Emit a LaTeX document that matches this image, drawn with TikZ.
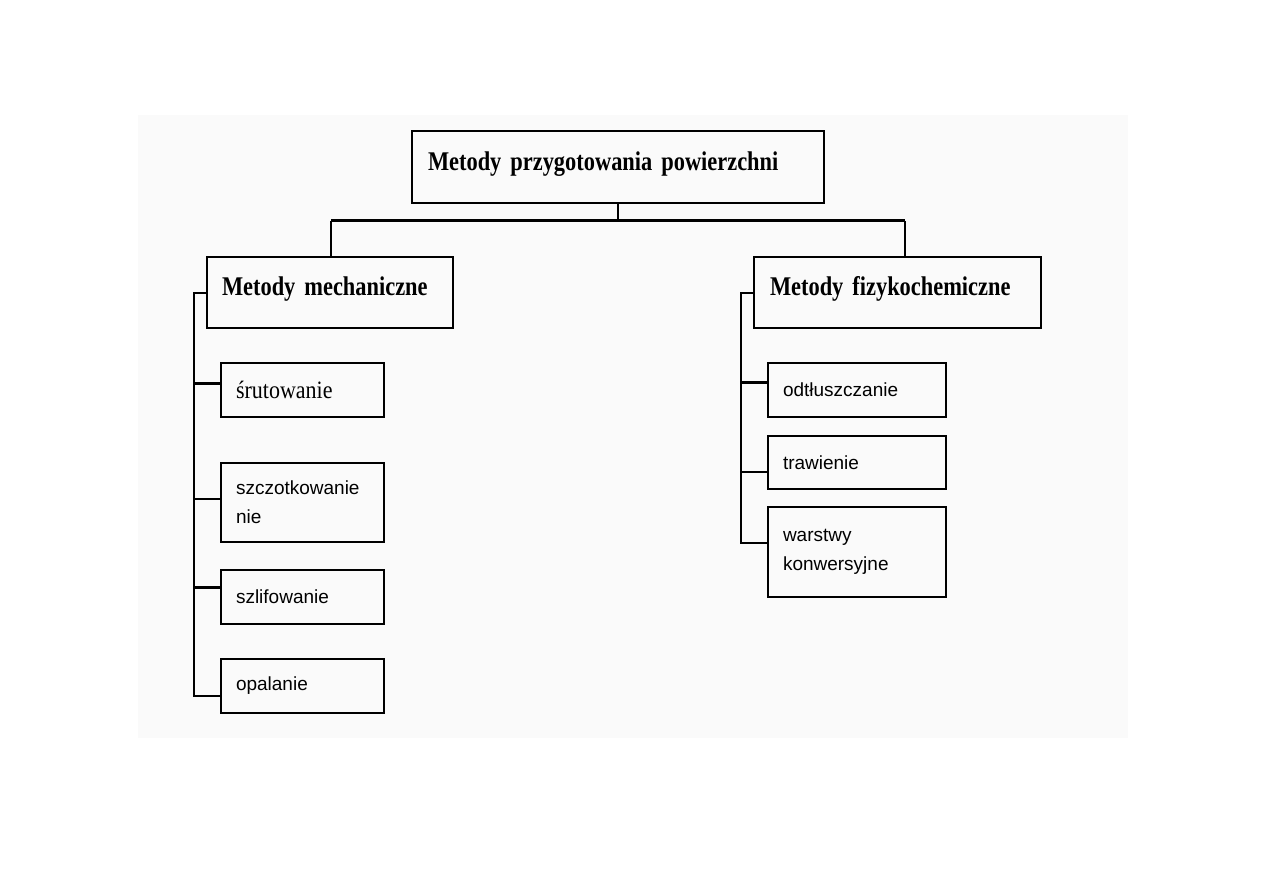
\documentclass[tikz,border=0pt]{standalone}
\usepackage{fontspec}
\setmainfont{Liberation Serif}
\newfontfamily\headfont[FakeStretch=0.83, WordSpace=0.7]{Liberation Serif}
\newfontfamily\serifn[FakeStretch=0.88]{Liberation Serif}
\newfontfamily\sansf{Liberation Sans}
\begin{document}
\begin{tikzpicture}[x=1pt,y=1pt,
  box/.style={draw, line width=2pt, anchor=north west, outer sep=0pt, inner xsep=15pt, inner ysep=0pt, align=left},
  head/.style={box, font=\headfont\bfseries\fontsize{27}{30}\selectfont, text depth=12.5pt},
  child/.style={box, font=\sansf\fontsize{19}{29}\selectfont},
  conn/.style={line width=2pt},
  thick conn/.style={line width=3pt}]
\useasboundingbox[fill=white] (0,0) rectangle (1263,-893);
\fill[black!2] (138,-115) rectangle (1128,-738);
% main boxes
\node[head, text width=380pt, minimum height=72pt, inner xsep=16pt] (top) at (412,-131) {Metody przygotowania powierzchni};
\node[head, text width=216pt, minimum height=71pt] (mech) at (207,-257) {Metody mechaniczne};
\node[head, text width=255pt, minimum height=71pt, inner xsep=16pt] (fiz) at (754,-257) {Metody fizykochemiczne};
% children left
\node[box, font=\serifn\fontsize{25}{29}\selectfont, text width=133pt, minimum height=54pt] (srut) at (221,-363) {śrutowanie};
\node[child, text width=133pt, minimum height=79pt] (szcz) at (221,-463) {szczotkowanie\\nie};
\node[child, text width=133pt, minimum height=54pt] (szlif) at (221,-570) {szlifowanie};
\node[child, text width=133pt, minimum height=54pt] (opal) at (221,-659) {opalanie};
% children right
\node[child, text width=148pt, minimum height=54pt] (odtl) at (768,-363) {odtłuszczanie};
\node[child, text width=148pt, minimum height=53pt] (traw) at (768,-436) {trawienie};
\node[child, text width=148pt, minimum height=90pt] (warst) at (768,-507) {warstwy\\konwersyjne};
% top connectors
\coordinate (jl) at (331,-221);
\coordinate (jr) at (905,-221);
\draw[conn] (top.south) -- (top.south |- jl);
\draw[thick conn] (jl) -- (jr);
\draw[conn] (jl) -- (jl |- mech.north);
\draw[conn] (jr) -- (jr |- fiz.north);
% left spine
\coordinate (spL) at (194,0);
\coordinate (cSrut) at ([yshift=7pt]srut.west);
\coordinate (cSzcz) at ([yshift=4pt]szcz.west);
\coordinate (cSzlif) at ([yshift=10pt]szlif.west);
\coordinate (cOpal) at ([yshift=-10pt]opal.west);
\draw[conn] (mech.west) -- (mech.west -| spL) -- (spL |- cOpal) -- (cOpal);
\draw[thick conn] (cSrut) -- (cSrut -| spL);
\draw[conn] (cSzcz) -- (cSzcz -| spL);
\draw[thick conn] (cSzlif) -- (cSzlif -| spL);
% right spine
\coordinate (spR) at (741,0);
\coordinate (cOdtl) at ([yshift=8pt]odtl.west);
\coordinate (cTraw) at ([yshift=-9pt]traw.west);
\coordinate (cWarst) at ([yshift=9pt]warst.west);
\draw[conn] (fiz.west) -- (fiz.west -| spR) -- (spR |- cWarst) -- (cWarst);
\draw[thick conn] (cOdtl) -- (cOdtl -| spR);
\draw[conn] (cTraw) -- (cTraw -| spR);
\end{tikzpicture}
\end{document}
